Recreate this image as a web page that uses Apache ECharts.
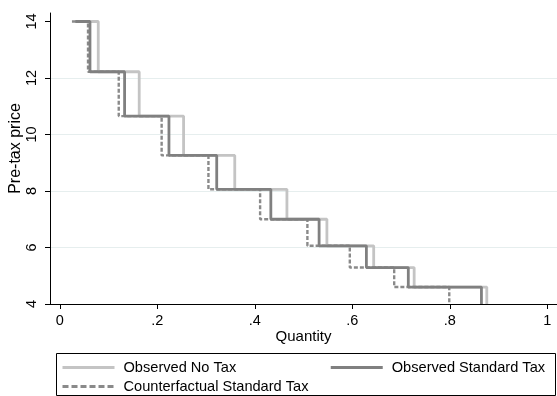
<!DOCTYPE html>
<html>
<head>
<meta charset="utf-8">
<script src="https://cdn.jsdelivr.net/npm/echarts@6/dist/echarts.min.js"></script>
<style>
  html, body { margin: 0; padding: 0; background: #fff; }
  #chart { width: 557px; height: 396px; }
</style>
</head>
<body>
<div id="chart"></div>
<script>
// Step demand curves: price level of each step and the quantity where each step ends.
const prices = [14, 12.22, 10.65, 9.26, 8.06, 7.0, 6.06, 5.29, 4.6, 4];
const qNoTax = [0.040, 0.079, 0.163, 0.254, 0.359, 0.466, 0.548, 0.644, 0.727, 0.876];
const qStandardTax = [0.032, 0.062, 0.133, 0.224, 0.322, 0.433, 0.532, 0.629, 0.715, 0.865];
const qCounterfactual = [0.025, 0.058, 0.121, 0.209, 0.305, 0.411, 0.508, 0.595, 0.686, 0.799];

const seriesNames = ['Observed No Tax', 'Observed Standard Tax', 'Counterfactual Standard Tax'];
const xTicks = [0, 0.2, 0.4, 0.6, 0.8, 1];
const xTickLabels = ['0', '.2', '.4', '.6', '.8', '1'];
const yTicks = [4, 6, 8, 10, 12, 14];

const FONT = '"Liberation Sans", Arial, Helvetica, sans-serif';

function steps(q) {
  return q.map((x, i) => [x, prices[i]]);
}

const legendCommon = {
  left: 61,
  padding: 0,
  itemWidth: 52,
  itemHeight: 14,
  selectedMode: false,
  itemStyle: { opacity: 0 },
  textStyle: { fontSize: 14.6, color: '#000', fontFamily: FONT, padding: [0, 0, 0, 4] }
};

const chart = echarts.init(document.getElementById('chart'), null, { renderer: 'canvas' });

chart.setOption({
  backgroundColor: '#ffffff',
  animation: false,
  textStyle: { fontFamily: FONT, color: '#000' },
  grid: { left: 50, right: 0, top: 13, bottom: 92, outerBoundsMode: 'none', containLabel: false },
  xAxis: {
    type: 'value',
    min: -0.02,
    max: 1.02,
    name: 'Quantity',
    nameLocation: 'middle',
    nameGap: 25,
    nameMoveOverlap: false,
    nameTextStyle: { fontSize: 15, color: '#000', fontFamily: FONT },
    axisLine: { show: true, onZero: false, lineStyle: { color: '#000', width: 1 } },
    axisTick: { show: true, length: 5, customValues: xTicks, lineStyle: { color: '#000' } },
    axisLabel: {
      customValues: xTicks,
      margin: 9,
      fontSize: 14.5,
      color: '#000',
      fontFamily: FONT,
      formatter: v => {
        const i = xTicks.findIndex(t => Math.abs(t - v) < 1e-6);
        return i >= 0 ? xTickLabels[i] : '';
      }
    },
    splitLine: { show: false }
  },
  yAxis: {
    type: 'value',
    min: 4,
    max: 14.3,
    interval: 2,
    name: 'Pre-tax price',
    nameLocation: 'middle',
    nameGap: 26,
    nameRotate: 90,
    nameMoveOverlap: false,
    nameTextStyle: { fontSize: 16, color: '#000', fontFamily: FONT, padding: [0, 0, 0, 20] },
    axisLine: { show: true, onZero: false, lineStyle: { color: '#000', width: 1 } },
    axisTick: { show: true, length: 5, customValues: yTicks, lineStyle: { color: '#000' } },
    axisLabel: {
      customValues: yTicks,
      rotate: 90,
      margin: 11,
      fontSize: 14.5,
      color: '#000',
      fontFamily: FONT
    },
    splitLine: {
      show: true,
      showMinLine: false,
      showMaxLine: false,
      lineStyle: { color: '#e6eeee', width: 1 }
    }
  },
  legend: [
    Object.assign({}, legendCommon, {
      data: [seriesNames[0], seriesNames[1]],
      top: 360,
      itemGap: 93,
      lineStyle: { width: 3 }
    }),
    Object.assign({}, legendCommon, {
      data: [seriesNames[2]],
      top: 379,
      lineStyle: { width: 3, type: [6, 3] }
    })
  ],
  graphic: [
    {
      type: 'rect',
      shape: { x: 56.5, y: 353.5, width: 499, height: 42 },
      style: { fill: 'none', stroke: '#000', lineWidth: 1 },
      silent: true
    }
  ],
  series: [
    {
      name: seriesNames[0],
      type: 'line',
      step: 'end',
      data: steps(qNoTax),
      symbol: 'none',
      z: 2,
      color: '#c4c4c4',
      lineStyle: { color: '#c4c4c4', width: 2.8 }
    },
    {
      name: seriesNames[1],
      type: 'line',
      step: 'end',
      data: steps(qStandardTax),
      symbol: 'none',
      z: 4,
      color: '#808080',
      lineStyle: { color: '#808080', width: 2.8 }
    },
    {
      name: seriesNames[2],
      type: 'line',
      step: 'end',
      data: steps(qCounterfactual),
      symbol: 'none',
      z: 3,
      color: '#8a8a8a',
      lineStyle: { color: '#8a8a8a', width: 2.4, type: [4, 2] }
    }
  ]
});
</script>
</body>
</html>
